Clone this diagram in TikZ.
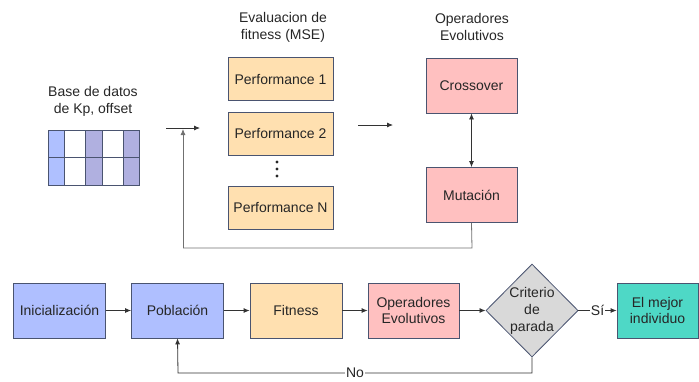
\documentclass[tikz,border=0pt]{standalone}
\usepackage{fontspec}
\setmainfont{Liberation Sans}
\usetikzlibrary{shapes.geometric,arrows.meta}
\definecolor{bordc}{HTML}{4A5470}
\definecolor{blueb}{HTML}{AFBFFF}
\definecolor{orb}{HTML}{FFE0B0}
\definecolor{pinkb}{HTML}{FFC0C0}
\definecolor{grayb}{HTML}{D9D9D9}
\definecolor{tealb}{HTML}{4ED8C6}
\definecolor{colA}{HTML}{AFC0FF}
\definecolor{colB}{HTML}{B0B0E0}
\definecolor{linec}{HTML}{333333}
\begin{document}
\begin{tikzpicture}[x=1pt,y=-1pt,
  every node/.style={font=\fontsize{14}{16}\selectfont, text=black!85},
  box/.style={draw=bordc, line width=0.8pt, minimum width=#1, minimum height=55pt, inner sep=0pt, align=center},
  box/.default=92pt,
  pbox/.style={draw=bordc, line width=0.8pt, fill=orb, minimum width=105pt, minimum height=43pt, inner sep=0pt},
  ebox/.style={draw=bordc, line width=0.8pt, fill=pinkb, minimum width=91pt, minimum height=55pt, inner sep=0pt},
  conn/.style={draw=linec, line width=0.8pt, -{Latex[length=6pt,width=5pt]}},
  plain/.style={draw=linec!70, line width=0.8pt},
  lbl/.style={align=center, font=\fontsize{14}{17}\selectfont}
]
\useasboundingbox (0,0) rectangle (699,381);

% top-left label and table
\node[lbl] (dblabel) at (93,101) {Base de datos\\de Kp, offset};
\fill[colA] (48,130) rectangle (64,185);
\fill[colB] (85,130) rectangle (102,185);
\fill[colB] (123,130) rectangle (139,185);
\draw[bordc, line width=0.8pt] (48,130) rectangle (139,185);
\draw[bordc, line width=0.8pt] (48,157) -- (139,157);
\foreach \xx in {64,85,102,123} \draw[bordc, line width=0.8pt] (\xx,130) -- (\xx,185);

% top middle
\node[lbl] (evlabel) at (283,27) {Evaluacion de\\fitness (MSE)};
\node[pbox] (p1) at (280.5,79) {Performance 1};
\node[pbox] (p2) at (280.5,133.5) {Performance 2};
\node[pbox] (pn) at (280.5,207.5) {Performance N};
\foreach \yy in {162,169,176} \fill[black!85] (277,\yy) circle (1.6pt);

% top right
\node[lbl] (oplabel) at (472,27) {Operadores\\Evolutivos};
\node[ebox] (cross) at (471.5,85.5) {Crossover};
\node[ebox] (mut) at (471.5,195) {Mutación};
\draw[draw=linec, line width=0.8pt, {Latex[length=6pt,width=5pt]}-{Latex[length=6pt,width=5pt]}] (cross) -- (mut);

% arrows top
\coordinate (ain) at (166,128);
\coordinate (aout) at (200,128);
\draw[conn] (ain) -- (aout);
\coordinate (bin) at (358,125);
\coordinate (bout) at (393,125);
\draw[conn] (bin) -- (bout);
\coordinate (fb1) at (472,248);
\coordinate (fb2) at (183,248);
\coordinate (fb3) at (183,129);
\draw[plain] (mut.south) -- (fb1) -- (fb2);
\draw[plain, -{Latex[length=6pt,width=5pt]}, draw=linec!70] (fb2) -- (fb3);

% bottom row
\node[box, fill=blueb] (ini) at (59.5,310.5) {Inicialización};
\node[box, fill=blueb] (pob) at (177.5,310.5) {Población};
\node[box, fill=orb] (fit) at (296,310.5) {Fitness};
\node[box=91pt, fill=pinkb] (ope) at (413.5,310.5) {Operadores\\Evolutivos};
\node[diamond, draw=bordc, line width=0.8pt, fill=grayb, minimum width=92pt, minimum height=93pt, inner sep=0pt, align=center, font=\fontsize{14}{17}\selectfont] (crit) at (532,310.5) {Criterio\\de\\parada};
\node[box=81pt, fill=tealb] (best) at (657.5,310.5) {El mejor\\individuo};

\draw[conn] (ini) -- (pob);
\draw[conn] (pob) -- (fit);
\draw[conn] (fit) -- (ope);
\draw[conn] (ope) -- (crit);
\draw[conn] (crit) -- node[fill=white, inner sep=1pt] {Sí} (best);
\coordinate (no1) at (532,373);
\coordinate (no2) at (178,373);
\draw[conn] (crit.south) -- (no1) -- node[fill=white, inner sep=1pt, pos=0.5] {No} (no2) -- (pob.south);
\end{tikzpicture}
\end{document}
